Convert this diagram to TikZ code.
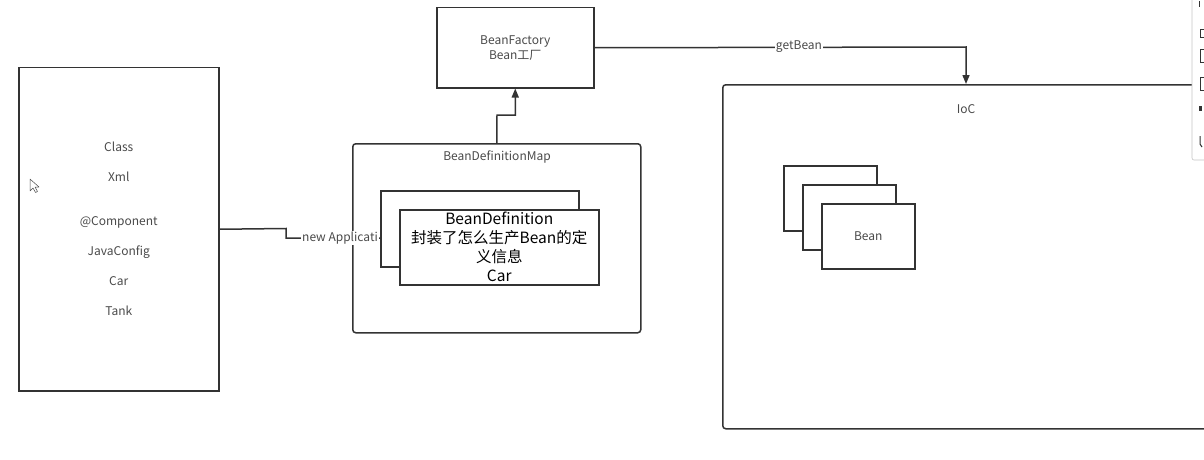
\documentclass[tikz,border=0pt]{standalone}
\usepackage{fontspec}
\setmainfont{Noto Sans CJK SC}
\usetikzlibrary{arrows.meta}
\definecolor{edge}{HTML}{333333}
\definecolor{ink}{HTML}{4A4A4A}
\begin{document}
\begin{tikzpicture}[x=1pt,y=-1pt,
  box/.style={draw=edge, line width=1.5pt, fill=white, inner sep=0pt, anchor=north west},
  small/.style={font=\fontsize{12}{15}\selectfont, text=ink},
  big/.style={font=\fontsize{15.5}{19}\selectfont, text=black},
  link/.style={draw=edge, line width=1.5pt},
  tip/.style={-{Triangle[length=9pt,width=7pt]}},
  tag/.style={small, fill=white, inner sep=1pt}
]
\useasboundingbox (0,0) rectangle (1204,460);
\clip (0,0) rectangle (1204,460);

% source box on the left
\node[box, minimum width=200pt, minimum height=323pt, small, align=center,
      font=\fontsize{12}{30}\selectfont] (src) at (18,67)
  {Class\\Xml\\[14pt]@Component\\JavaConfig\\Car\\Tank};

% mouse pointer
\draw[ink, line width=0.5pt, fill=white, line join=round]
  (30,179) -- (30,191) -- (33,188) -- (35.5,192.5) -- (37.5,191.5) -- (35,187) -- (39,187) -- cycle;

% bean definition map
\node[box, rounded corners=3pt, minimum width=288pt, minimum height=189pt] (map) at (352,143) {};
\node[small] (maptitle) at (497,157) {BeanDefinitionMap};

% connector into the map, label drawn under the definition cards
\coordinate (into) at (380,238);
\draw[link] (src.east) -- (286,228.5) -- (286,238) -- (into);
\node[tag, anchor=west] (newctx) at (301,238) {new Applicati};

% definition cards
\node[box, minimum width=198pt, minimum height=76pt] (bdback) at (380,190) {};
\node[box, minimum width=199pt, minimum height=75pt, big, align=center] (bd) at (399,209)
  {BeanDefinition\\封装了怎么生产Bean的定\\义信息\\Car};

% bean factory
\node[box, minimum width=157pt, minimum height=80pt, small, align=center] (bf) at (436,7)
  {BeanFactory\\Bean工厂};
\draw[link, tip] (map.north) -- (497,115) -- (bf.south |- 0,115) -- (bf.south);

% IoC container
\node[box, rounded corners=3pt, minimum width=520pt, minimum height=344pt] (ioc) at (722,84) {};
\node[small] (ioctitle) at (966,109) {IoC};

% getBean call
\draw[link, tip] (bf.east) -- (966,47) -- (966,84);
\node[tag] (get) at (799,47) {getBean};

% bean stack
\node[box, minimum width=93pt, minimum height=65pt] (b1) at (783,165) {};
\node[box, minimum width=93pt, minimum height=65pt] (b2) at (802,184) {};
\node[box, minimum width=93pt, minimum height=65pt, small] (b3) at (821,203) {Bean};

% side toolbar at the right edge
\draw[gray!45, line width=0.6pt, fill=white, rounded corners=2pt]
  (1215,-5) -- (1192,-5) -- (1192,160) -- (1215,160);
\begin{scope}[line width=1pt, draw=edge]
  \draw (1199,1) -- (1199,7);
  \draw (1200,30) rectangle (1207,38);
  \draw (1200,50) rectangle (1207,63);
  \draw (1200,77) rectangle (1207,90);
  \fill[edge] (1199,106) rectangle (1202,111);
  \draw (1200,136) -- (1200,144) -- (1202,147);
\end{scope}
\end{tikzpicture}
\end{document}
